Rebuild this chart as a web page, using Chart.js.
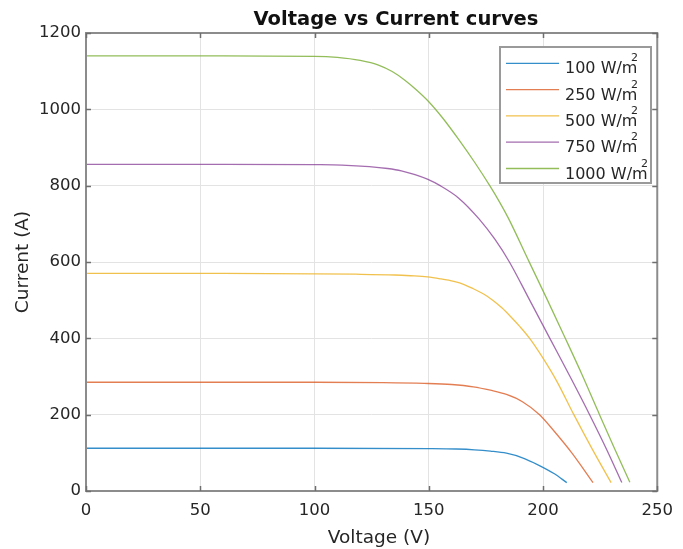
<!DOCTYPE html>
<html>
<head>
<meta charset="utf-8">
<script src="https://cdn.jsdelivr.net/npm/chart.js@4.4.0/dist/chart.umd.min.js"></script>
<style>
  html, body { margin: 0; padding: 0; background: #ffffff; }
  #wrap { width: 683px; height: 549px; }
</style>
</head>
<body>
<div id="wrap"><canvas id="c" width="683" height="549"></canvas></div>
<script>
// Irradiance levels (W/m^2) of the five I-V curves
const irradiance = [100, 250, 500, 750, 1000];

// Voltage (V) / current (A) samples of each curve
const v100  = [0, 60, 100, 150, 162, 170, 177, 184, 191, 198, 205, 210.4];
const i100  = [112, 112, 112, 111, 110, 108, 104.5, 99, 87, 68, 45, 22];

const v250  = [0, 60, 100, 130, 148, 160, 169.5, 177, 184, 191, 198.5, 205, 212.6, 221.9];
const i250  = [285, 285, 285, 284, 282, 279, 273, 264, 253, 234, 200, 156, 100, 22];

const v500  = [0, 60, 100, 118, 135, 142, 149.4, 155, 161, 165.5, 169.5, 174, 178, 182, 186, 190, 194, 200, 206, 213.5, 221.8, 229.8];
const i500  = [570, 570, 569, 568, 566, 564, 561, 556, 549, 541, 530, 516, 500, 480, 456, 430, 401, 348, 288, 200, 107, 22];

const v750  = [0, 60, 100, 112, 124, 132, 138, 144, 149.4, 155, 163, 172, 179, 185.3, 194, 203, 212, 220.4, 228, 234.5];
const i750  = [856, 856, 855, 854, 850, 845, 839, 829, 817, 800, 768, 713, 659, 600, 502, 400, 298, 200, 107, 22];

const v1000 = [0, 60, 100, 110, 120, 128, 134, 139.4, 144.4, 150, 156, 163, 170, 176.7, 181, 185, 193.9, 201.8, 209.7, 217, 224, 231, 238];
const i1000 = [1140, 1140, 1139, 1136, 1128, 1116, 1099, 1077, 1052, 1020, 978, 922, 862, 800, 757, 713, 601, 502, 401, 306, 210, 115, 23];

// Axis ticks
const xTicks = [0, 50, 100, 150, 200, 250];
const yTicks = [0, 200, 400, 600, 800, 1000, 1200];

const curves = [[v100, i100], [v250, i250], [v500, i500], [v750, i750], [v1000, i1000]];
const colors = ['rgba(0,114,189,0.8)', 'rgba(217,83,25,0.75)', 'rgba(237,177,32,0.8)', 'rgba(126,47,142,0.7)', 'rgba(119,172,48,0.8)'];

const FONT = "'DejaVu Sans', sans-serif";
const TEXT = '#262626';

const datasets = curves.map(([v, i], k) => ({
  label: irradiance[k] + ' W/m^2',
  data: v.map((x, j) => ({ x: x, y: i[j] })),
  borderColor: colors[k],
  backgroundColor: colors[k],
  borderWidth: 1.3,
  pointRadius: 0,
  fill: false,
  cubicInterpolationMode: 'monotone'
}));

// Box, inward ticks, legend, title and axis labels
const decor = {
  id: 'decor',
  afterDatasetsDraw(chart) {
    const { ctx, chartArea: a, scales } = chart;
    const sx = scales.x, sy = scales.y;
    ctx.save();

    const seg = (x1, y1, x2, y2) => { ctx.beginPath(); ctx.moveTo(x1, y1); ctx.lineTo(x2, y2); ctx.stroke(); };

    // axes box
    ctx.strokeStyle = '#8c8c8c';
    ctx.lineWidth = 2;
    ctx.strokeRect(a.left, a.top, a.right - a.left, a.bottom - a.top);

    // inward tick marks on all four sides
    ctx.lineWidth = 1.5;
    ctx.strokeStyle = '#6e6e6e';
    const tl = 5;
    xTicks.forEach(t => {
      const px = Math.round(sx.getPixelForValue(t)) + 0.5;
      seg(px, a.bottom, px, a.bottom - tl);
      seg(px, a.top, px, a.top + tl);
    });
    yTicks.forEach(t => {
      const py = Math.round(sy.getPixelForValue(t)) + 0.5;
      seg(a.left, py, a.left + tl, py);
      seg(a.right, py, a.right - tl, py);
    });

    // legend
    const lx = 500, ly = 47, lw = 151, lh = 136;
    ctx.fillStyle = '#ffffff';
    ctx.fillRect(lx, ly, lw, lh);
    ctx.strokeStyle = '#9a9a9a';
    ctx.lineWidth = 2;
    ctx.strokeRect(lx, ly, lw, lh);
    chart.data.datasets.forEach((ds, k) => {
      const rowY = 63.3 + 26.3 * k;
      ctx.strokeStyle = ds.borderColor;
      ctx.lineWidth = 1.3;
      seg(506, rowY, 559, rowY);
      const [main, sup] = ds.label.split('^');
      ctx.fillStyle = TEXT;
      ctx.textAlign = 'left';
      ctx.textBaseline = 'alphabetic';
      ctx.font = '16px ' + FONT;
      ctx.fillText(main, 565, rowY + 10);
      const end = 565 + ctx.measureText(main).width;
      ctx.font = '11px ' + FONT;
      ctx.textAlign = 'right';
      ctx.fillText(sup, end + 0.5, rowY - 2);
    });

    // title
    ctx.fillStyle = '#111111';
    ctx.textAlign = 'center';
    ctx.textBaseline = 'alphabetic';
    ctx.font = 'bold 19.5px ' + FONT;
    ctx.fillText('Voltage vs Current curves', 396, 25);

    // axis titles
    ctx.fillStyle = TEXT;
    ctx.font = '18.5px ' + FONT;
    ctx.fillText('Voltage (V)', 379, 543);
    ctx.translate(28, (a.top + a.bottom) / 2);
    ctx.rotate(-Math.PI / 2);
    ctx.fillText('Current (A)', 0, 0);

    ctx.restore();
  }
};

new Chart(document.getElementById('c'), {
  type: 'line',
  data: { datasets },
  options: {
    responsive: false,
    devicePixelRatio: 1,
    animation: false,
    layout: { padding: { left: 0, right: 16, top: 33, bottom: 0 } },
    plugins: {
      legend: { display: false },
      title: { display: false },
      tooltip: { enabled: false }
    },
    scales: {
      x: {
        type: 'linear',
        min: 0, max: 250,
        afterFit: s => { s.height = 58; },
        afterBuildTicks: s => { s.ticks = xTicks.map(v => ({ value: v })); },
        grid: { color: '#e3e3e3', lineWidth: 1, drawTicks: false },
        border: { display: false },
        ticks: { padding: 10, color: TEXT, font: { family: FONT, size: 16.5 }, maxRotation: 0,
                 callback: v => String(v) }
      },
      y: {
        type: 'linear',
        min: 0, max: 1200,
        afterFit: s => { s.width = 86; },
        afterBuildTicks: s => { s.ticks = yTicks.map(v => ({ value: v })); },
        grid: { color: '#e3e3e3', lineWidth: 1, drawTicks: false },
        border: { display: false },
        ticks: { padding: 5, color: TEXT, font: { family: FONT, size: 16.5 },
                 callback: v => String(v) }
      }
    }
  },
  plugins: [decor]
});
</script>
</body>
</html>
